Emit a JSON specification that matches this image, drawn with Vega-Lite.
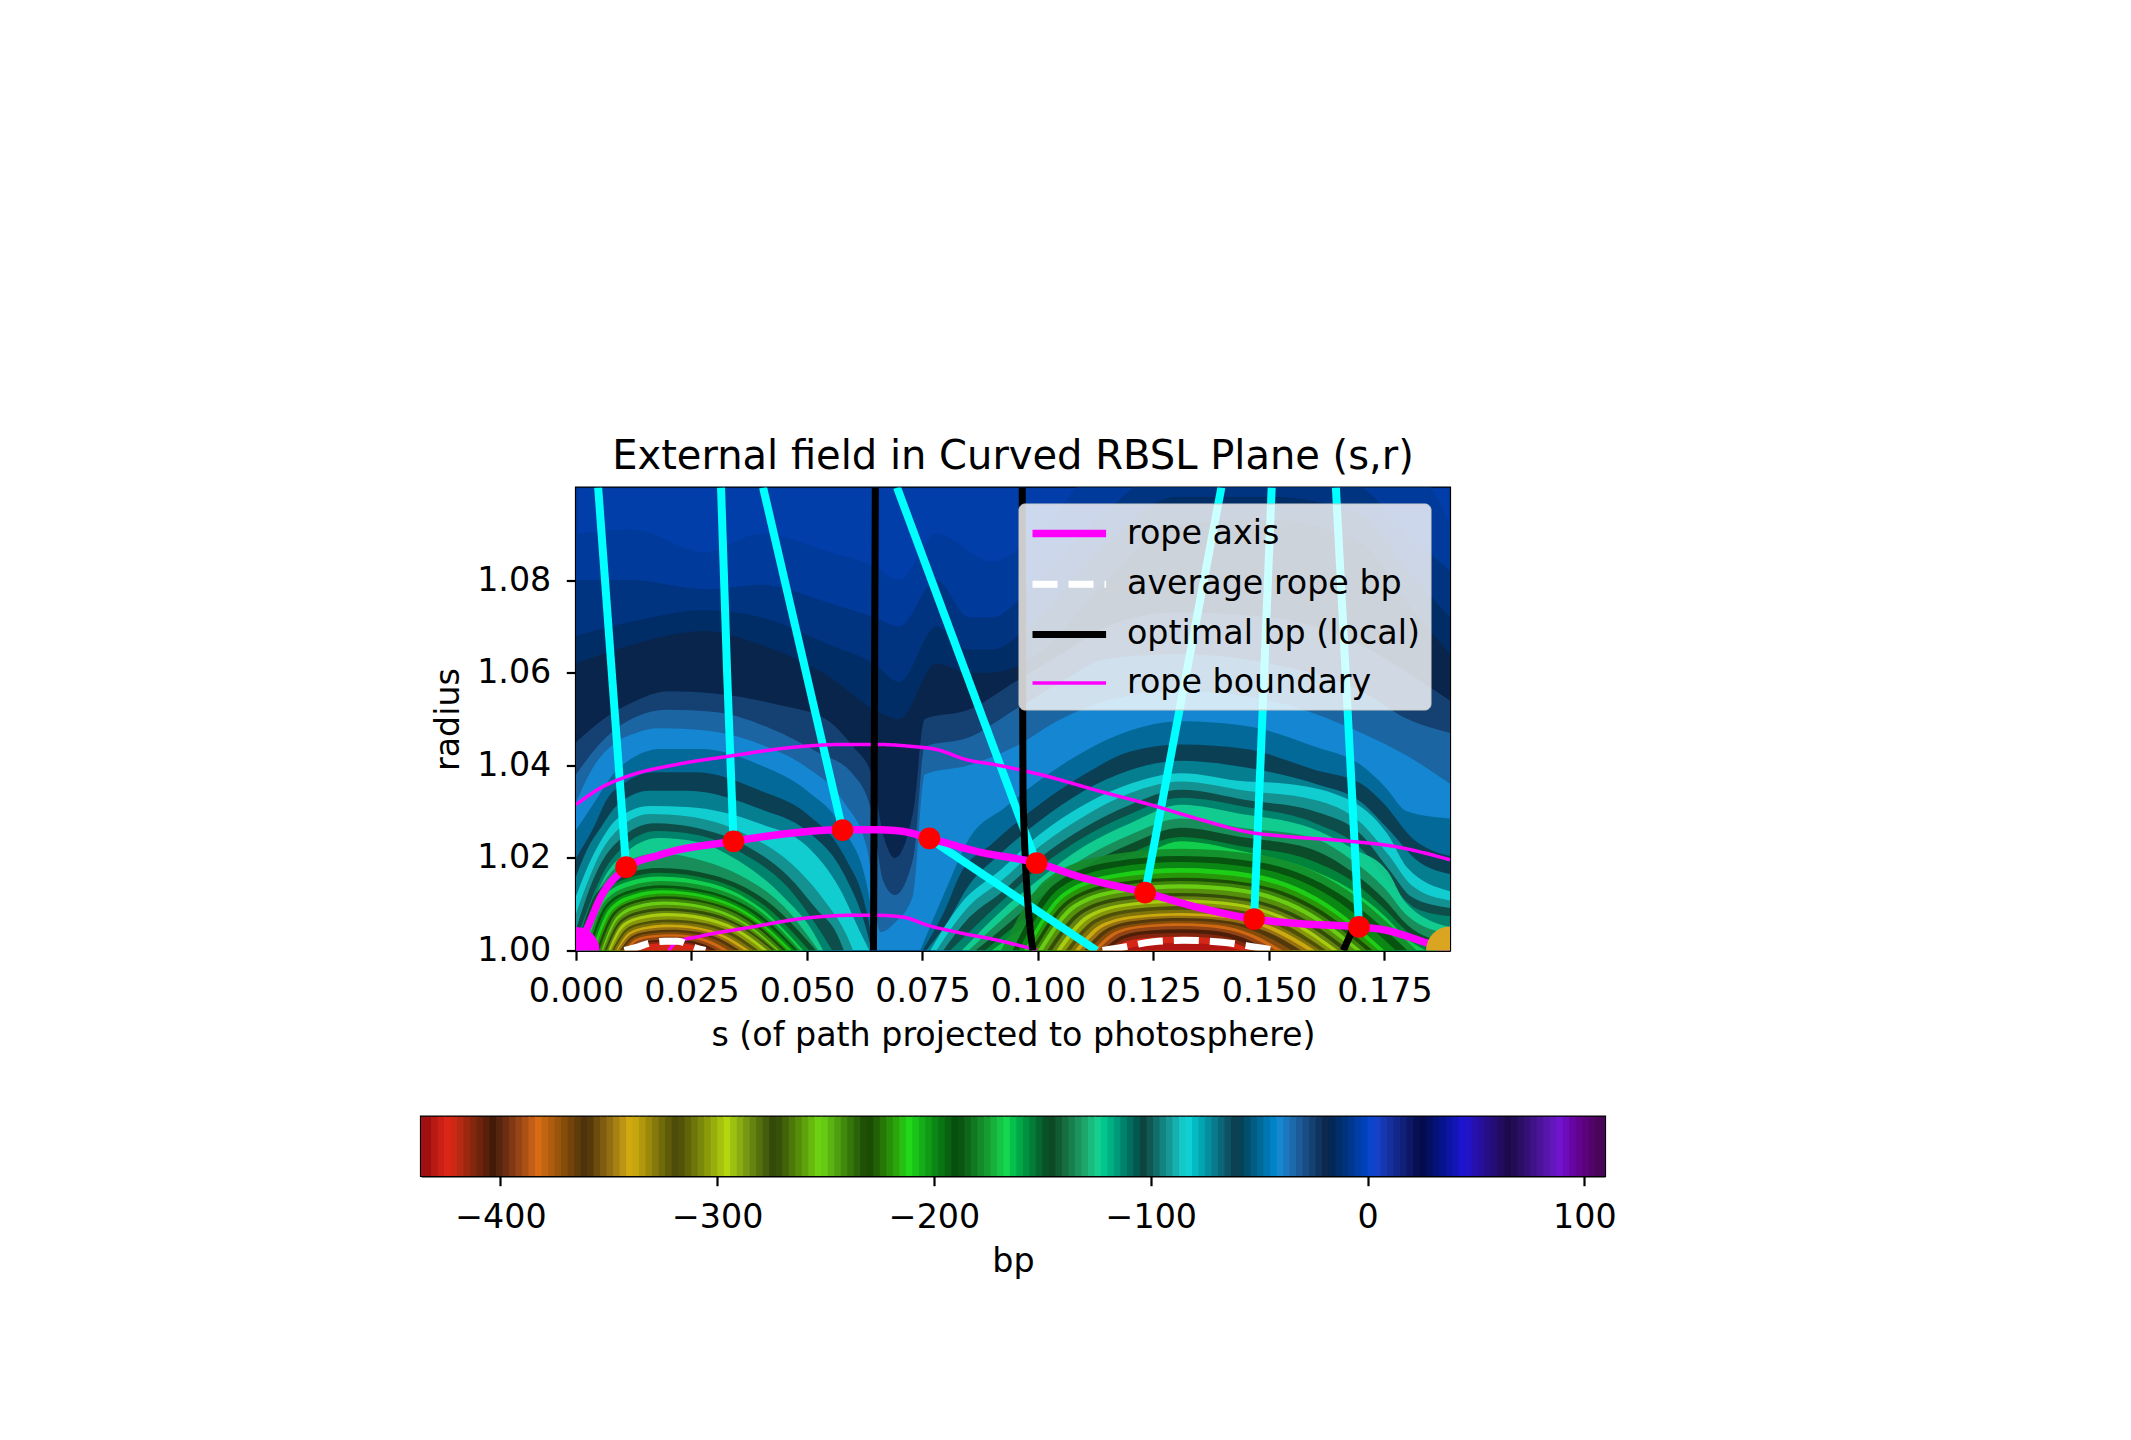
{"$schema":"https://vega.github.io/schema/vega-lite/v6.json","background":"white","padding":{"left":419,"top":434.5,"right":0,"bottom":0},"bounds":"flush","center":true,"spacing":166,"config":{"font":"DejaVu Sans","view":{"stroke":"#000000","strokeWidth":2.2},"axis":{"grid":false,"domainColor":"#000000","domainWidth":2.2,"tickColor":"#000000","tickWidth":2.2,"tickSize":9.7,"labelFontSize":33.3,"titleFontSize":33.3,"titleFontWeight":"normal","labelColor":"#000000","titleColor":"#000000","labelPadding":15.5,"labelFlush":false,"labelOverlap":false,"titlePadding":11.5},"title":{"fontSize":40,"fontWeight":"normal","color":"#000000","offset":11}},"datasets":{"levels":[{"v":-5,"s":0,"r":1.1},{"v":-5,"s":0.1892,"r":1.1},
{"v":-8,"s":0,"r":1.09},{"v":-8,"s":0.012,"r":1.091},{"v":-8,"s":0.028,"r":1.086},{"v":-8,"s":0.04,"r":1.09},{"v":-8,"s":0.055,"r":1.086},{"v":-8,"s":0.0645,"r":1.083},{"v":-8,"s":0.07,"r":1.08},{"v":-8,"s":0.078,"r":1.09},{"v":-8,"s":0.09,"r":1.084},{"v":-8,"s":0.1,"r":1.09},{"v":-8,"s":0.115,"r":1.105},{"v":-8,"s":0.18,"r":1.105},{"v":-8,"s":0.1892,"r":1.092},
{"v":-12,"s":0,"r":1.08},{"v":-12,"s":0.012,"r":1.08},{"v":-12,"s":0.028,"r":1.078},{"v":-12,"s":0.04,"r":1.079},{"v":-12,"s":0.055,"r":1.075},{"v":-12,"s":0.0645,"r":1.072},{"v":-12,"s":0.07,"r":1.07},{"v":-12,"s":0.078,"r":1.08},{"v":-12,"s":0.085,"r":1.072},{"v":-12,"s":0.09,"r":1.072},{"v":-12,"s":0.1,"r":1.08},{"v":-12,"s":0.115,"r":1.095},{"v":-12,"s":0.13,"r":1.105},{"v":-12,"s":0.15,"r":1.105},{"v":-12,"s":0.17,"r":1.1},{"v":-12,"s":0.18,"r":1.09},{"v":-12,"s":0.1892,"r":1.082},
{"v":-16,"s":0,"r":1.068},{"v":-16,"s":0.012,"r":1.071},{"v":-16,"s":0.028,"r":1.0735},{"v":-16,"s":0.04,"r":1.072},{"v":-16,"s":0.055,"r":1.066},{"v":-16,"s":0.0645,"r":1.062},{"v":-16,"s":0.07,"r":1.058},{"v":-16,"s":0.078,"r":1.07},{"v":-16,"s":0.085,"r":1.065},{"v":-16,"s":0.09,"r":1.065},{"v":-16,"s":0.1,"r":1.072},{"v":-16,"s":0.115,"r":1.088},{"v":-16,"s":0.13,"r":1.098},{"v":-16,"s":0.15,"r":1.098},{"v":-16,"s":0.17,"r":1.094},{"v":-16,"s":0.18,"r":1.082},{"v":-16,"s":0.1892,"r":1.072},
{"v":-20,"s":0,"r":1.062},{"v":-20,"s":0.012,"r":1.066},{"v":-20,"s":0.028,"r":1.069},{"v":-20,"s":0.04,"r":1.066},{"v":-20,"s":0.055,"r":1.059},{"v":-20,"s":0.0645,"r":1.052},{"v":-20,"s":0.07,"r":1.05},{"v":-20,"s":0.078,"r":1.062},{"v":-20,"s":0.085,"r":1.06},{"v":-20,"s":0.09,"r":1.06},{"v":-20,"s":0.1,"r":1.064},{"v":-20,"s":0.115,"r":1.08},{"v":-20,"s":0.13,"r":1.092},{"v":-20,"s":0.15,"r":1.093},{"v":-20,"s":0.17,"r":1.088},{"v":-20,"s":0.18,"r":1.075},{"v":-20,"s":0.1892,"r":1.064},
{"v":-28,"s":0,"r":1.045},{"v":-28,"s":0.006,"r":1.05},{"v":-28,"s":0.012,"r":1.0535},{"v":-28,"s":0.02,"r":1.056},{"v":-28,"s":0.03,"r":1.0555},{"v":-28,"s":0.044,"r":1.053},{"v":-28,"s":0.054,"r":1.05},{"v":-28,"s":0.06,"r":1.044},{"v":-28,"s":0.064,"r":1.038},{"v":-28,"s":0.0665,"r":1.025},{"v":-28,"s":0.069,"r":1.02},{"v":-28,"s":0.073,"r":1.03},{"v":-28,"s":0.0755,"r":1.05},{"v":-28,"s":0.085,"r":1.052},{"v":-28,"s":0.095,"r":1.058},{"v":-28,"s":0.105,"r":1.064},{"v":-28,"s":0.115,"r":1.07},{"v":-28,"s":0.13,"r":1.073},{"v":-28,"s":0.15,"r":1.072},{"v":-28,"s":0.17,"r":1.066},{"v":-28,"s":0.18,"r":1.06},{"v":-28,"s":0.1892,"r":1.054},
{"v":-36,"s":0,"r":1.038},{"v":-36,"s":0.005,"r":1.0445},{"v":-36,"s":0.012,"r":1.05},{"v":-36,"s":0.02,"r":1.052},{"v":-36,"s":0.03,"r":1.0515},{"v":-36,"s":0.042,"r":1.048},{"v":-36,"s":0.052,"r":1.043},{"v":-36,"s":0.06,"r":1.038},{"v":-36,"s":0.064,"r":1.03},{"v":-36,"s":0.0665,"r":1.015},{"v":-36,"s":0.069,"r":1.012},{"v":-36,"s":0.073,"r":1.02},{"v":-36,"s":0.0755,"r":1.044},{"v":-36,"s":0.085,"r":1.046},{"v":-36,"s":0.095,"r":1.052},{"v":-36,"s":0.105,"r":1.058},{"v":-36,"s":0.115,"r":1.063},{"v":-36,"s":0.13,"r":1.064},{"v":-36,"s":0.15,"r":1.062},{"v":-36,"s":0.17,"r":1.056},{"v":-36,"s":0.18,"r":1.05},{"v":-36,"s":0.1892,"r":1.047},
{"v":-43,"s":0,"r":1.032},{"v":-43,"s":0.004,"r":1.04},{"v":-43,"s":0.008,"r":1.0445},{"v":-43,"s":0.013,"r":1.047},{"v":-43,"s":0.018,"r":1.048},{"v":-43,"s":0.028,"r":1.0475},{"v":-43,"s":0.04,"r":1.0445},{"v":-43,"s":0.05,"r":1.0395},{"v":-43,"s":0.058,"r":1.032},{"v":-43,"s":0.063,"r":1.022},{"v":-43,"s":0.066,"r":1.004},{"v":-43,"s":0.069,"r":1.006},{"v":-43,"s":0.073,"r":1.012},{"v":-43,"s":0.0755,"r":1.038},{"v":-43,"s":0.085,"r":1.04},{"v":-43,"s":0.095,"r":1.044},{"v":-43,"s":0.105,"r":1.05},{"v":-43,"s":0.115,"r":1.054},{"v":-43,"s":0.13,"r":1.056},{"v":-43,"s":0.15,"r":1.054},{"v":-43,"s":0.17,"r":1.047},{"v":-43,"s":0.18,"r":1.042},{"v":-43,"s":0.1892,"r":1.036}],
"domeA":[{"v":-52,"s":0,"r":1.026},{"v":-52,"s":0.004,"r":1.032},{"v":-52,"s":0.008,"r":1.038},{"v":-52,"s":0.013,"r":1.042},{"v":-52,"s":0.018,"r":1.0435},{"v":-52,"s":0.027,"r":1.0435},{"v":-52,"s":0.04,"r":1.04},{"v":-52,"s":0.05,"r":1.0345},{"v":-52,"s":0.058,"r":1.026},{"v":-52,"s":0.063,"r":1.014},{"v":-52,"s":0.0652,"r":1},
{"v":-62,"s":0,"r":1.02},{"v":-62,"s":0.0038,"r":1.0265},{"v":-62,"s":0.0066,"r":1.0325},{"v":-62,"s":0.011,"r":1.0365},{"v":-62,"s":0.017,"r":1.0385},{"v":-62,"s":0.026,"r":1.0385},{"v":-62,"s":0.04,"r":1.0345},{"v":-62,"s":0.05,"r":1.0295},{"v":-62,"s":0.058,"r":1.0205},{"v":-62,"s":0.063,"r":1.008},{"v":-62,"s":0.0645,"r":1},
{"v":-74,"s":0,"r":1.016},{"v":-74,"s":0.0025,"r":1.022},{"v":-74,"s":0.005,"r":1.026},{"v":-74,"s":0.009,"r":1.0315},{"v":-74,"s":0.016,"r":1.0345},{"v":-74,"s":0.024,"r":1.0345},{"v":-74,"s":0.04,"r":1.0305},{"v":-74,"s":0.05,"r":1.0258},{"v":-74,"s":0.058,"r":1.0165},{"v":-74,"s":0.063,"r":1.004},{"v":-74,"s":0.064,"r":1},
{"v":-85,"s":0,"r":1.0117},{"v":-85,"s":0.0025,"r":1.018},{"v":-85,"s":0.005,"r":1.023},{"v":-85,"s":0.009,"r":1.0285},{"v":-85,"s":0.016,"r":1.0312},{"v":-85,"s":0.024,"r":1.031},{"v":-85,"s":0.04,"r":1.0273},{"v":-85,"s":0.05,"r":1.0225},{"v":-85,"s":0.057,"r":1.0135},{"v":-85,"s":0.062,"r":1.003},{"v":-85,"s":0.0635,"r":1},
{"v":-95,"s":0,"r":1.008},{"v":-95,"s":0.0028,"r":1.0155},{"v":-95,"s":0.005,"r":1.0205},{"v":-95,"s":0.009,"r":1.026},{"v":-95,"s":0.016,"r":1.0295},{"v":-95,"s":0.024,"r":1.029},{"v":-95,"s":0.037,"r":1.025},{"v":-95,"s":0.048,"r":1.0175},{"v":-95,"s":0.054,"r":1.0105},{"v":-95,"s":0.0585,"r":1.0035},{"v":-95,"s":0.06,"r":1},
{"v":-105,"s":0,"r":1.0045},{"v":-105,"s":0.003,"r":1.0135},{"v":-105,"s":0.0055,"r":1.019},{"v":-105,"s":0.0095,"r":1.024},{"v":-105,"s":0.017,"r":1.0275},{"v":-105,"s":0.026,"r":1.0265},{"v":-105,"s":0.037,"r":1.0225},{"v":-105,"s":0.046,"r":1.016},{"v":-105,"s":0.052,"r":1.009},{"v":-105,"s":0.0565,"r":1.0035},{"v":-105,"s":0.058,"r":1},
{"v":-115,"s":0,"r":1.002},{"v":-115,"s":0.0035,"r":1.0115},{"v":-115,"s":0.006,"r":1.017},{"v":-115,"s":0.0098,"r":1.022},{"v":-115,"s":0.0175,"r":1.0258},{"v":-115,"s":0.026,"r":1.025},{"v":-115,"s":0.036,"r":1.021},{"v":-115,"s":0.046,"r":1.0135},{"v":-115,"s":0.052,"r":1.0055},{"v":-115,"s":0.0555,"r":1},
{"v":-125,"s":0.001,"r":1},{"v":-125,"s":0.0036,"r":1.01},{"v":-125,"s":0.006,"r":1.0155},{"v":-125,"s":0.01,"r":1.0205},{"v":-125,"s":0.018,"r":1.0243},{"v":-125,"s":0.026,"r":1.0235},{"v":-125,"s":0.035,"r":1.0195},{"v":-125,"s":0.045,"r":1.0115},{"v":-125,"s":0.051,"r":1.0045},{"v":-125,"s":0.0535,"r":1},
{"v":-137,"s":0.0005,"r":1},{"v":-137,"s":0.0032,"r":1.0095},{"v":-137,"s":0.0065,"r":1.0155},{"v":-137,"s":0.0095,"r":1.0185},{"v":-137,"s":0.018,"r":1.021},{"v":-137,"s":0.027,"r":1.0195},{"v":-137,"s":0.036,"r":1.016},{"v":-137,"s":0.045,"r":1.0095},{"v":-137,"s":0.0525,"r":1},
{"v":-148,"s":0,"r":1},{"v":-148,"s":0.0045,"r":1.0125},{"v":-148,"s":0.0108,"r":1.0166},{"v":-148,"s":0.018,"r":1.0178},{"v":-148,"s":0.0299,"r":1.0162},{"v":-148,"s":0.0418,"r":1.0103},{"v":-148,"s":0.052,"r":1},
{"v":-158,"s":0.001,"r":1},{"v":-158,"s":0.0053,"r":1.0118},{"v":-158,"s":0.0112,"r":1.0156},{"v":-158,"s":0.018,"r":1.0168},{"v":-158,"s":0.0294,"r":1.0153},{"v":-158,"s":0.0408,"r":1.0097},{"v":-158,"s":0.0505,"r":1},
{"v":-168,"s":0.0015,"r":1},{"v":-168,"s":0.0056,"r":1.0112},{"v":-168,"s":0.0114,"r":1.0149},{"v":-168,"s":0.018,"r":1.016},{"v":-168,"s":0.0289,"r":1.0146},{"v":-168,"s":0.0398,"r":1.0093},{"v":-168,"s":0.0492,"r":1},
{"v":-180,"s":0.002,"r":1},{"v":-180,"s":0.0061,"r":1.0105},{"v":-180,"s":0.0119,"r":1.014},{"v":-180,"s":0.0185,"r":1.015},{"v":-180,"s":0.029,"r":1.0137},{"v":-180,"s":0.0396,"r":1.0087},{"v":-180,"s":0.0486,"r":1},
{"v":-191,"s":0.0025,"r":1},{"v":-191,"s":0.0065,"r":1.0099},{"v":-191,"s":0.0121,"r":1.0131},{"v":-191,"s":0.0185,"r":1.0141},{"v":-191,"s":0.0288,"r":1.0128},{"v":-191,"s":0.0392,"r":1.0082},{"v":-191,"s":0.048,"r":1},
{"v":-202,"s":0.003,"r":1},{"v":-202,"s":0.0069,"r":1.0095},{"v":-202,"s":0.0123,"r":1.0126},{"v":-202,"s":0.0185,"r":1.0135},{"v":-202,"s":0.0286,"r":1.0123},{"v":-202,"s":0.0387,"r":1.0078},{"v":-202,"s":0.0473,"r":1},
{"v":-213,"s":0.0035,"r":1},{"v":-213,"s":0.0073,"r":1.0091},{"v":-213,"s":0.0125,"r":1.0121},{"v":-213,"s":0.0185,"r":1.013},{"v":-213,"s":0.0284,"r":1.0118},{"v":-213,"s":0.0382,"r":1.0075},{"v":-213,"s":0.0467,"r":1},
{"v":-222,"s":0.004,"r":1},{"v":-222,"s":0.0078,"r":1.0086},{"v":-222,"s":0.013,"r":1.0114},{"v":-222,"s":0.019,"r":1.0123},{"v":-222,"s":0.0285,"r":1.0112},{"v":-222,"s":0.0379,"r":1.0071},{"v":-222,"s":0.046,"r":1},
{"v":-232,"s":0.0045,"r":1},{"v":-232,"s":0.0081,"r":1.0082},{"v":-232,"s":0.0132,"r":1.0109},{"v":-232,"s":0.019,"r":1.0117},{"v":-232,"s":0.0283,"r":1.0106},{"v":-232,"s":0.0376,"r":1.0068},{"v":-232,"s":0.0455,"r":1},
{"v":-243,"s":0.005,"r":1},{"v":-243,"s":0.0085,"r":1.0078},{"v":-243,"s":0.0134,"r":1.0104},{"v":-243,"s":0.019,"r":1.0112},{"v":-243,"s":0.028,"r":1.0102},{"v":-243,"s":0.0371,"r":1.0065},{"v":-243,"s":0.0448,"r":1},
{"v":-254,"s":0.0055,"r":1},{"v":-254,"s":0.0089,"r":1.0074},{"v":-254,"s":0.0136,"r":1.0099},{"v":-254,"s":0.019,"r":1.0106},{"v":-254,"s":0.0278,"r":1.0096},{"v":-254,"s":0.0365,"r":1.0061},{"v":-254,"s":0.044,"r":1},
{"v":-265,"s":0.0058,"r":1},{"v":-265,"s":0.0092,"r":1.0069},{"v":-265,"s":0.0138,"r":1.0092},{"v":-265,"s":0.0192,"r":1.0099},{"v":-265,"s":0.0277,"r":1.009},{"v":-265,"s":0.0363,"r":1.0057},{"v":-265,"s":0.0436,"r":1},
{"v":-275,"s":0.0062,"r":1},{"v":-275,"s":0.0095,"r":1.0064},{"v":-275,"s":0.0141,"r":1.0086},{"v":-275,"s":0.0193,"r":1.0092},{"v":-275,"s":0.0277,"r":1.0084},{"v":-275,"s":0.036,"r":1.0053},{"v":-275,"s":0.0432,"r":1},
{"v":-286,"s":0.0066,"r":1},{"v":-286,"s":0.0098,"r":1.006},{"v":-286,"s":0.0143,"r":1.008},{"v":-286,"s":0.0195,"r":1.0086},{"v":-286,"s":0.0276,"r":1.0078},{"v":-286,"s":0.0356,"r":1.005},{"v":-286,"s":0.0425,"r":1},
{"v":-297,"s":0.007,"r":1},{"v":-297,"s":0.0101,"r":1.0057},{"v":-297,"s":0.0145,"r":1.0075},{"v":-297,"s":0.0195,"r":1.0081},{"v":-297,"s":0.0272,"r":1.0074},{"v":-297,"s":0.0349,"r":1.0047},{"v":-297,"s":0.0415,"r":1},
{"v":-308,"s":0.0074,"r":1},{"v":-308,"s":0.0105,"r":1.0052},{"v":-308,"s":0.0148,"r":1.0069},{"v":-308,"s":0.0198,"r":1.0074},{"v":-308,"s":0.027,"r":1.0067},{"v":-308,"s":0.0343,"r":1.0043},{"v":-308,"s":0.0405,"r":1},
{"v":-320,"s":0.0078,"r":1},{"v":-320,"s":0.0109,"r":1.0047},{"v":-320,"s":0.0151,"r":1.0062},{"v":-320,"s":0.02,"r":1.0067},{"v":-320,"s":0.0268,"r":1.0061},{"v":-320,"s":0.0337,"r":1.0039},{"v":-320,"s":0.0395,"r":1},
{"v":-330,"s":0.0082,"r":1},{"v":-330,"s":0.0112,"r":1.0043},{"v":-330,"s":0.0153,"r":1.0057},{"v":-330,"s":0.02,"r":1.0061},{"v":-330,"s":0.0265,"r":1.0056},{"v":-330,"s":0.033,"r":1.0035},{"v":-330,"s":0.0385,"r":1},
{"v":-341,"s":0.0087,"r":1},{"v":-341,"s":0.0115,"r":1.0039},{"v":-341,"s":0.0155,"r":1.0052},{"v":-341,"s":0.02,"r":1.0056},{"v":-341,"s":0.0261,"r":1.0051},{"v":-341,"s":0.0323,"r":1.0032},{"v":-341,"s":0.0375,"r":1},
{"v":-352,"s":0.009,"r":1},{"v":-352,"s":0.0118,"r":1.0035},{"v":-352,"s":0.0158,"r":1.0047},{"v":-352,"s":0.0203,"r":1.005},{"v":-352,"s":0.026,"r":1.0046},{"v":-352,"s":0.0316,"r":1.0029},{"v":-352,"s":0.0365,"r":1},
{"v":-362,"s":0.0095,"r":1},{"v":-362,"s":0.0123,"r":1.0032},{"v":-362,"s":0.0161,"r":1.0042},{"v":-362,"s":0.0205,"r":1.0045},{"v":-362,"s":0.0258,"r":1.0041},{"v":-362,"s":0.031,"r":1.0026},{"v":-362,"s":0.0355,"r":1},
{"v":-373,"s":0.01,"r":1},{"v":-373,"s":0.0126,"r":1.0028},{"v":-373,"s":0.0163,"r":1.0037},{"v":-373,"s":0.0205,"r":1.004},{"v":-373,"s":0.0253,"r":1.0036},{"v":-373,"s":0.0302,"r":1.0023},{"v":-373,"s":0.0343,"r":1},
{"v":-384,"s":0.0105,"r":1},{"v":-384,"s":0.013,"r":1.0025},{"v":-384,"s":0.0165,"r":1.0033},{"v":-384,"s":0.0205,"r":1.0035},{"v":-384,"s":0.0249,"r":1.0032},{"v":-384,"s":0.0293,"r":1.002},{"v":-384,"s":0.033,"r":1},
{"v":-395,"s":0.011,"r":1},{"v":-395,"s":0.0134,"r":1.0021},{"v":-395,"s":0.0167,"r":1.0028},{"v":-395,"s":0.0205,"r":1.003},{"v":-395,"s":0.0245,"r":1.0027},{"v":-395,"s":0.0284,"r":1.0017},{"v":-395,"s":0.0318,"r":1},
{"v":-405,"s":0.0115,"r":1},{"v":-405,"s":0.0138,"r":1.0017},{"v":-405,"s":0.0169,"r":1.0022},{"v":-405,"s":0.0205,"r":1.0024},{"v":-405,"s":0.024,"r":1.0022},{"v":-405,"s":0.0275,"r":1.0014},{"v":-405,"s":0.0305,"r":1},
{"v":-415,"s":0.012,"r":1},{"v":-415,"s":0.0141,"r":1.0014},{"v":-415,"s":0.0171,"r":1.0019},{"v":-415,"s":0.0205,"r":1.002},{"v":-415,"s":0.0236,"r":1.0018},{"v":-415,"s":0.0268,"r":1.0012},{"v":-415,"s":0.0295,"r":1},
{"v":-425,"s":0.0125,"r":1},{"v":-425,"s":0.0145,"r":1.0011},{"v":-425,"s":0.0173,"r":1.0015},{"v":-425,"s":0.0205,"r":1.0016},{"v":-425,"s":0.0233,"r":1.0015},{"v":-425,"s":0.0261,"r":1.0009},{"v":-425,"s":0.0285,"r":1}],
"domeB":[{"v":-52,"s":0.0745,"r":1},{"v":-52,"s":0.08,"r":1.013},{"v":-52,"s":0.085,"r":1.024},{"v":-52,"s":0.093,"r":1.031},{"v":-52,"s":0.1,"r":1.0365},{"v":-52,"s":0.11,"r":1.043},{"v":-52,"s":0.12,"r":1.0475},{"v":-52,"s":0.131,"r":1.0495},{"v":-52,"s":0.145,"r":1.0485},{"v":-52,"s":0.16,"r":1.044},{"v":-52,"s":0.17,"r":1.04},{"v":-52,"s":0.175,"r":1.0355},{"v":-52,"s":0.18,"r":1.03},{"v":-52,"s":0.1892,"r":1.0285},
{"v":-62,"s":0.075,"r":1},{"v":-62,"s":0.08,"r":1.009},{"v":-62,"s":0.0832,"r":1.0165},{"v":-62,"s":0.09,"r":1.023},{"v":-62,"s":0.1004,"r":1.0316},{"v":-62,"s":0.11,"r":1.038},{"v":-62,"s":0.12,"r":1.043},{"v":-62,"s":0.131,"r":1.0445},{"v":-62,"s":0.145,"r":1.0435},{"v":-62,"s":0.16,"r":1.039},{"v":-62,"s":0.17,"r":1.036},{"v":-62,"s":0.175,"r":1.0316},{"v":-62,"s":0.181,"r":1.0243},{"v":-62,"s":0.1892,"r":1.0204},
{"v":-74,"s":0.0758,"r":1},{"v":-74,"s":0.08,"r":1.0055},{"v":-74,"s":0.085,"r":1.014},{"v":-74,"s":0.092,"r":1.021},{"v":-74,"s":0.1004,"r":1.028},{"v":-74,"s":0.11,"r":1.0345},{"v":-74,"s":0.12,"r":1.039},{"v":-74,"s":0.131,"r":1.041},{"v":-74,"s":0.145,"r":1.0395},{"v":-74,"s":0.16,"r":1.036},{"v":-74,"s":0.17,"r":1.032},{"v":-74,"s":0.176,"r":1.026},{"v":-74,"s":0.182,"r":1.0195},{"v":-74,"s":0.1892,"r":1.0165},
{"v":-85,"s":0.0767,"r":1},{"v":-85,"s":0.0832,"r":1.01},{"v":-85,"s":0.092,"r":1.0175},{"v":-85,"s":0.1004,"r":1.0251},{"v":-85,"s":0.11,"r":1.0315},{"v":-85,"s":0.12,"r":1.036},{"v":-85,"s":0.131,"r":1.0383},{"v":-85,"s":0.145,"r":1.0365},{"v":-85,"s":0.152,"r":1.0362},{"v":-85,"s":0.1664,"r":1.033},{"v":-85,"s":0.1757,"r":1.0251},{"v":-85,"s":0.18,"r":1.0178},{"v":-85,"s":0.1892,"r":1.0128},
{"v":-95,"s":0.078,"r":1},{"v":-95,"s":0.085,"r":1.0095},{"v":-95,"s":0.092,"r":1.015},{"v":-95,"s":0.1004,"r":1.0225},{"v":-95,"s":0.11,"r":1.029},{"v":-95,"s":0.12,"r":1.034},{"v":-95,"s":0.131,"r":1.0365},{"v":-95,"s":0.145,"r":1.0345},{"v":-95,"s":0.16,"r":1.0325},{"v":-95,"s":0.17,"r":1.0275},{"v":-95,"s":0.176,"r":1.0205},{"v":-95,"s":0.181,"r":1.014},{"v":-95,"s":0.1892,"r":1.0108},
{"v":-105,"s":0.0795,"r":1},{"v":-105,"s":0.085,"r":1.007},{"v":-105,"s":0.092,"r":1.0125},{"v":-105,"s":0.1004,"r":1.02},{"v":-105,"s":0.11,"r":1.0265},{"v":-105,"s":0.12,"r":1.0315},{"v":-105,"s":0.131,"r":1.0347},{"v":-105,"s":0.145,"r":1.0325},{"v":-105,"s":0.16,"r":1.03},{"v":-105,"s":0.17,"r":1.025},{"v":-105,"s":0.176,"r":1.0175},{"v":-105,"s":0.181,"r":1.0115},{"v":-105,"s":0.1892,"r":1.0092},
{"v":-115,"s":0.081,"r":1},{"v":-115,"s":0.092,"r":1.0105},{"v":-115,"s":0.1004,"r":1.018},{"v":-115,"s":0.11,"r":1.0245},{"v":-115,"s":0.12,"r":1.0295},{"v":-115,"s":0.131,"r":1.033},{"v":-115,"s":0.145,"r":1.031},{"v":-115,"s":0.16,"r":1.0275},{"v":-115,"s":0.17,"r":1.022},{"v":-115,"s":0.176,"r":1.0148},{"v":-115,"s":0.182,"r":1.009},{"v":-115,"s":0.1892,"r":1.0074},
{"v":-125,"s":0.0835,"r":1},{"v":-125,"s":0.092,"r":1.0085},{"v":-125,"s":0.1004,"r":1.0155},{"v":-125,"s":0.11,"r":1.0225},{"v":-125,"s":0.12,"r":1.0275},{"v":-125,"s":0.131,"r":1.0315},{"v":-125,"s":0.144,"r":1.0295},{"v":-125,"s":0.159,"r":1.0265},{"v":-125,"s":0.168,"r":1.0221},{"v":-125,"s":0.1757,"r":1.0171},{"v":-125,"s":0.1794,"r":1.0106},{"v":-125,"s":0.1892,"r":1.005},
{"v":-137,"s":0.085,"r":1},{"v":-137,"s":0.092,"r":1.0065},{"v":-137,"s":0.1004,"r":1.0135},{"v":-137,"s":0.11,"r":1.02},{"v":-137,"s":0.12,"r":1.025},{"v":-137,"s":0.131,"r":1.0285},{"v":-137,"s":0.144,"r":1.0265},{"v":-137,"s":0.159,"r":1.0245},{"v":-137,"s":0.168,"r":1.0195},{"v":-137,"s":0.175,"r":1.0135},{"v":-137,"s":0.18,"r":1.0075},{"v":-137,"s":0.1892,"r":1.0035},
{"v":-148,"s":0.0865,"r":1},{"v":-148,"s":0.092,"r":1.0045},{"v":-148,"s":0.1004,"r":1.0115},{"v":-148,"s":0.11,"r":1.018},{"v":-148,"s":0.12,"r":1.023},{"v":-148,"s":0.131,"r":1.0265},{"v":-148,"s":0.144,"r":1.0245},{"v":-148,"s":0.159,"r":1.022},{"v":-148,"s":0.168,"r":1.017},{"v":-148,"s":0.175,"r":1.011},{"v":-148,"s":0.18,"r":1.0055},{"v":-148,"s":0.1892,"r":1.0015},
{"v":-158,"s":0.0885,"r":1},{"v":-158,"s":0.1004,"r":1.0095},{"v":-158,"s":0.11,"r":1.016},{"v":-158,"s":0.12,"r":1.021},{"v":-158,"s":0.131,"r":1.0245},{"v":-158,"s":0.144,"r":1.0225},{"v":-158,"s":0.159,"r":1.0195},{"v":-158,"s":0.168,"r":1.015},{"v":-158,"s":0.175,"r":1.009},{"v":-158,"s":0.18,"r":1.004},{"v":-158,"s":0.186,"r":1},
{"v":-168,"s":0.09,"r":1},{"v":-168,"s":0.1004,"r":1.0075},{"v":-168,"s":0.11,"r":1.014},{"v":-168,"s":0.12,"r":1.019},{"v":-168,"s":0.131,"r":1.0236},{"v":-168,"s":0.144,"r":1.0215},{"v":-168,"s":0.159,"r":1.0175},{"v":-168,"s":0.168,"r":1.013},{"v":-168,"s":0.175,"r":1.0075},{"v":-168,"s":0.18,"r":1.0025},{"v":-168,"s":0.184,"r":1},
{"v":-180,"s":0.092,"r":1},{"v":-180,"s":0.1018,"r":1.0154},{"v":-180,"s":0.1154,"r":1.0207},{"v":-180,"s":0.131,"r":1.022},{"v":-180,"s":0.1489,"r":1.0205},{"v":-180,"s":0.1667,"r":1.0132},{"v":-180,"s":0.182,"r":1},
{"v":-191,"s":0.0945,"r":1},{"v":-191,"s":0.1036,"r":1.0143},{"v":-191,"s":0.1164,"r":1.0192},{"v":-191,"s":0.131,"r":1.0204},{"v":-191,"s":0.1482,"r":1.019},{"v":-191,"s":0.1653,"r":1.0122},{"v":-191,"s":0.18,"r":1},
{"v":-202,"s":0.0958,"r":1},{"v":-202,"s":0.1046,"r":1.0134},{"v":-202,"s":0.1169,"r":1.018},{"v":-202,"s":0.131,"r":1.0191},{"v":-202,"s":0.1473,"r":1.0178},{"v":-202,"s":0.1636,"r":1.0115},{"v":-202,"s":0.1775,"r":1},
{"v":-213,"s":0.097,"r":1},{"v":-213,"s":0.1055,"r":1.0125},{"v":-213,"s":0.1174,"r":1.0167},{"v":-213,"s":0.131,"r":1.0178},{"v":-213,"s":0.1464,"r":1.0166},{"v":-213,"s":0.1618,"r":1.0107},{"v":-213,"s":0.175,"r":1},
{"v":-222,"s":0.0978,"r":1},{"v":-222,"s":0.1061,"r":1.0118},{"v":-222,"s":0.1177,"r":1.0158},{"v":-222,"s":0.131,"r":1.0168},{"v":-222,"s":0.146,"r":1.0156},{"v":-222,"s":0.161,"r":1.0101},{"v":-222,"s":0.1738,"r":1},
{"v":-232,"s":0.0985,"r":1},{"v":-232,"s":0.1066,"r":1.011},{"v":-232,"s":0.118,"r":1.0148},{"v":-232,"s":0.131,"r":1.0157},{"v":-232,"s":0.1455,"r":1.0146},{"v":-232,"s":0.1601,"r":1.0094},{"v":-232,"s":0.1725,"r":1},
{"v":-243,"s":0.0993,"r":1},{"v":-243,"s":0.1072,"r":1.0105},{"v":-243,"s":0.1183,"r":1.0141},{"v":-243,"s":0.131,"r":1.015},{"v":-243,"s":0.1451,"r":1.014},{"v":-243,"s":0.1591,"r":1.009},{"v":-243,"s":0.1712,"r":1},
{"v":-254,"s":0.1,"r":1},{"v":-254,"s":0.1078,"r":1.01},{"v":-254,"s":0.1186,"r":1.0134},{"v":-254,"s":0.131,"r":1.0143},{"v":-254,"s":0.1447,"r":1.0133},{"v":-254,"s":0.1583,"r":1.0086},{"v":-254,"s":0.17,"r":1},
{"v":-265,"s":0.101,"r":1},{"v":-265,"s":0.1085,"r":1.0094},{"v":-265,"s":0.119,"r":1.0126},{"v":-265,"s":0.131,"r":1.0134},{"v":-265,"s":0.1442,"r":1.0125},{"v":-265,"s":0.1575,"r":1.008},{"v":-265,"s":0.1688,"r":1},
{"v":-275,"s":0.102,"r":1},{"v":-275,"s":0.1093,"r":1.0087},{"v":-275,"s":0.1194,"r":1.0117},{"v":-275,"s":0.131,"r":1.0124},{"v":-275,"s":0.1438,"r":1.0115},{"v":-275,"s":0.1566,"r":1.0074},{"v":-275,"s":0.1675,"r":1},
{"v":-286,"s":0.103,"r":1},{"v":-286,"s":0.11,"r":1.0082},{"v":-286,"s":0.1198,"r":1.011},{"v":-286,"s":0.131,"r":1.0117},{"v":-286,"s":0.1433,"r":1.0109},{"v":-286,"s":0.1556,"r":1.007},{"v":-286,"s":0.1662,"r":1},
{"v":-297,"s":0.104,"r":1},{"v":-297,"s":0.1108,"r":1.0077},{"v":-297,"s":0.1202,"r":1.0103},{"v":-297,"s":0.131,"r":1.011},{"v":-297,"s":0.1429,"r":1.0102},{"v":-297,"s":0.1548,"r":1.0066},{"v":-297,"s":0.165,"r":1},
{"v":-308,"s":0.105,"r":1},{"v":-308,"s":0.1115,"r":1.0072},{"v":-308,"s":0.1206,"r":1.0097},{"v":-308,"s":0.131,"r":1.0103},{"v":-308,"s":0.1425,"r":1.0096},{"v":-308,"s":0.154,"r":1.0062},{"v":-308,"s":0.1638,"r":1},
{"v":-320,"s":0.106,"r":1},{"v":-320,"s":0.1123,"r":1.0067},{"v":-320,"s":0.121,"r":1.009},{"v":-320,"s":0.131,"r":1.0096},{"v":-320,"s":0.142,"r":1.0089},{"v":-320,"s":0.1531,"r":1.0058},{"v":-320,"s":0.1625,"r":1},
{"v":-330,"s":0.107,"r":1},{"v":-330,"s":0.113,"r":1.0062},{"v":-330,"s":0.1214,"r":1.0083},{"v":-330,"s":0.131,"r":1.0088},{"v":-330,"s":0.1416,"r":1.0082},{"v":-330,"s":0.1521,"r":1.0053},{"v":-330,"s":0.1612,"r":1},
{"v":-341,"s":0.108,"r":1},{"v":-341,"s":0.1138,"r":1.0057},{"v":-341,"s":0.1218,"r":1.0076},{"v":-341,"s":0.131,"r":1.0081},{"v":-341,"s":0.1412,"r":1.0075},{"v":-341,"s":0.1513,"r":1.0049},{"v":-341,"s":0.16,"r":1},
{"v":-352,"s":0.109,"r":1},{"v":-352,"s":0.1145,"r":1.0053},{"v":-352,"s":0.1222,"r":1.0071},{"v":-352,"s":0.131,"r":1.0075},{"v":-352,"s":0.1406,"r":1.007},{"v":-352,"s":0.1503,"r":1.0045},{"v":-352,"s":0.1585,"r":1},
{"v":-362,"s":0.11,"r":1},{"v":-362,"s":0.1153,"r":1.0049},{"v":-362,"s":0.1226,"r":1.0066},{"v":-362,"s":0.131,"r":1.007},{"v":-362,"s":0.1401,"r":1.0065},{"v":-362,"s":0.1492,"r":1.0042},{"v":-362,"s":0.157,"r":1},
{"v":-373,"s":0.111,"r":1},{"v":-373,"s":0.116,"r":1.0045},{"v":-373,"s":0.123,"r":1.006},{"v":-373,"s":0.131,"r":1.0064},{"v":-373,"s":0.1394,"r":1.006},{"v":-373,"s":0.1478,"r":1.0038},{"v":-373,"s":0.155,"r":1},
{"v":-384,"s":0.112,"r":1},{"v":-384,"s":0.1168,"r":1.0041},{"v":-384,"s":0.1234,"r":1.0055},{"v":-384,"s":0.131,"r":1.0059},{"v":-384,"s":0.1387,"r":1.0055},{"v":-384,"s":0.1464,"r":1.0035},{"v":-384,"s":0.153,"r":1},
{"v":-395,"s":0.113,"r":1},{"v":-395,"s":0.1175,"r":1.0037},{"v":-395,"s":0.1238,"r":1.005},{"v":-395,"s":0.131,"r":1.0053},{"v":-395,"s":0.1382,"r":1.0049},{"v":-395,"s":0.1454,"r":1.0032},{"v":-395,"s":0.1515,"r":1},
{"v":-405,"s":0.114,"r":1},{"v":-405,"s":0.1183,"r":1.0032},{"v":-405,"s":0.1242,"r":1.0043},{"v":-405,"s":0.131,"r":1.0046},{"v":-405,"s":0.1377,"r":1.0043},{"v":-405,"s":0.1443,"r":1.0028},{"v":-405,"s":0.15,"r":1},
{"v":-415,"s":0.115,"r":1},{"v":-415,"s":0.119,"r":1.0027},{"v":-415,"s":0.1246,"r":1.0036},{"v":-415,"s":0.131,"r":1.0038},{"v":-415,"s":0.137,"r":1.0035},{"v":-415,"s":0.1429,"r":1.0023},{"v":-415,"s":0.148,"r":1},
{"v":-425,"s":0.1156,"r":1},{"v":-425,"s":0.1195,"r":1.0021},{"v":-425,"s":0.1248,"r":1.0028},{"v":-425,"s":0.131,"r":1.003},{"v":-425,"s":0.1364,"r":1.0028},{"v":-425,"s":0.1419,"r":1.0018},{"v":-425,"s":0.1465,"r":1},
{"v":-434,"s":0.118,"r":1},{"v":-434,"s":0.124,"r":1.0013},{"v":-434,"s":0.131,"r":1.0016},{"v":-434,"s":0.138,"r":1.0013},{"v":-434,"s":0.144,"r":1}],
"fieldlines":[{"p":"1","s":0.01085,"r":1.018},{"p":"1","s":0.0048,"r":1.1},{"p":"2","s":0.0341,"r":1.0236},{"p":"2","s":0.0327,"r":1.0603},{"p":"2","s":0.0314,"r":1.1},{"p":"3","s":0.0577,"r":1.026},{"p":"3","s":0.0405,"r":1.1},{"p":"4","s":0.0765,"r":1.0242},{"p":"4","s":0.1127,"r":1},{"p":"5","s":0.0997,"r":1.0189},{"p":"5","s":0.0695,"r":1.1},{"p":"6","s":0.1232,"r":1.0125},{"p":"6","s":0.1397,"r":1.1},{"p":"7","s":0.1468,"r":1.0068},{"p":"7","s":0.1506,"r":1.1},{"p":"8","s":0.1695,"r":1.0051},{"p":"8","s":0.1645,"r":1.1}],
"lines":[{"k":"rope boundary","p":"u","s":0,"r":1.0315},{"k":"rope boundary","p":"u","s":0.0053,"r":1.0351},{"k":"rope boundary","p":"u","s":0.0111,"r":1.0376},{"k":"rope boundary","p":"u","s":0.0219,"r":1.0402},{"k":"rope boundary","p":"u","s":0.0334,"r":1.042},{"k":"rope boundary","p":"u","s":0.0471,"r":1.0439},{"k":"rope boundary","p":"u","s":0.058,"r":1.0445},{"k":"rope boundary","p":"u","s":0.0652,"r":1.0445},{"k":"rope boundary","p":"u","s":0.0724,"r":1.0441},{"k":"rope boundary","p":"u","s":0.0781,"r":1.0434},{"k":"rope boundary","p":"u","s":0.0846,"r":1.0412},{"k":"rope boundary","p":"u","s":0.0904,"r":1.0402},{"k":"rope boundary","p":"u","s":0.1005,"r":1.038},{"k":"rope boundary","p":"u","s":0.1134,"r":1.0344},{"k":"rope boundary","p":"u","s":0.1243,"r":1.0315},{"k":"rope boundary","p":"u","s":0.1351,"r":1.0283},{"k":"rope boundary","p":"u","s":0.146,"r":1.0255},{"k":"rope boundary","p":"u","s":0.1531,"r":1.0247},{"k":"rope boundary","p":"u","s":0.1675,"r":1.0236},{"k":"rope boundary","p":"u","s":0.177,"r":1.0225},{"k":"rope boundary","p":"u","s":0.1892,"r":1.0196},
{"k":"rope boundary","p":"l","s":0.0201,"r":1},{"k":"rope boundary","p":"l","s":0.0216,"r":1.0017},{"k":"rope boundary","p":"l","s":0.027,"r":1.0031},{"k":"rope boundary","p":"l","s":0.0371,"r":1.0049},{"k":"rope boundary","p":"l","s":0.0507,"r":1.0071},{"k":"rope boundary","p":"l","s":0.0594,"r":1.0076},{"k":"rope boundary","p":"l","s":0.0652,"r":1.0076},{"k":"rope boundary","p":"l","s":0.0709,"r":1.0072},{"k":"rope boundary","p":"l","s":0.076,"r":1.0055},{"k":"rope boundary","p":"l","s":0.0832,"r":1.0038},{"k":"rope boundary","p":"l","s":0.0904,"r":1.0024},{"k":"rope boundary","p":"l","s":0.0998,"r":1.0001},
{"k":"average rope bp","p":"a","s":0.0105,"r":1},{"k":"average rope bp","p":"a","s":0.0129,"r":1.0006},{"k":"average rope bp","p":"a","s":0.016,"r":1.0016},{"k":"average rope bp","p":"a","s":0.0194,"r":1.002},{"k":"average rope bp","p":"a","s":0.022,"r":1.002},{"k":"average rope bp","p":"a","s":0.0258,"r":1.0006},{"k":"average rope bp","p":"a","s":0.028,"r":1},
{"k":"average rope bp","p":"b","s":0.114,"r":1},{"k":"average rope bp","p":"b","s":0.1178,"r":1.0006},{"k":"average rope bp","p":"b","s":0.125,"r":1.0019},{"k":"average rope bp","p":"b","s":0.1316,"r":1.0022},{"k":"average rope bp","p":"b","s":0.14,"r":1.0018},{"k":"average rope bp","p":"b","s":0.1479,"r":1.0006},{"k":"average rope bp","p":"b","s":0.152,"r":1},
{"k":"optimal bp (local)","p":"x","s":0.0644,"r":1},{"k":"optimal bp (local)","p":"x","s":0.0648,"r":1.1},{"k":"optimal bp (local)","p":"y","s":0.0966,"r":1.1},{"k":"optimal bp (local)","p":"y","s":0.0967,"r":1.052},{"k":"optimal bp (local)","p":"y","s":0.0968,"r":1.0316},{"k":"optimal bp (local)","p":"y","s":0.0989,"r":1},{"k":"optimal bp (local)","p":"z","s":0.1661,"r":1},{"k":"optimal bp (local)","p":"z","s":0.1682,"r":1.0047},
{"k":"rope axis","p":"m","s":0,"r":1},{"k":"rope axis","p":"m","s":0.00245,"r":1.0049},{"k":"rope axis","p":"m","s":0.0053,"r":1.0114},{"k":"rope axis","p":"m","s":0.0109,"r":1.0178},{"k":"rope axis","p":"m","s":0.0183,"r":1.0207},{"k":"rope axis","p":"m","s":0.0342,"r":1.0236},{"k":"rope axis","p":"m","s":0.0471,"r":1.0254},{"k":"rope axis","p":"m","s":0.0577,"r":1.0261},{"k":"rope axis","p":"m","s":0.0644,"r":1.0261},{"k":"rope axis","p":"m","s":0.0702,"r":1.0258},{"k":"rope axis","p":"m","s":0.0766,"r":1.0242},{"k":"rope axis","p":"m","s":0.0868,"r":1.0214},{"k":"rope axis","p":"m","s":0.0998,"r":1.0189},{"k":"rope axis","p":"m","s":0.1098,"r":1.0157},{"k":"rope axis","p":"m","s":0.1232,"r":1.0125},{"k":"rope axis","p":"m","s":0.1351,"r":1.0092},{"k":"rope axis","p":"m","s":0.1468,"r":1.0068},{"k":"rope axis","p":"m","s":0.1567,"r":1.0058},{"k":"rope axis","p":"m","s":0.1695,"r":1.0051},{"k":"rope axis","p":"m","s":0.1747,"r":1.0045},{"k":"rope axis","p":"m","s":0.184,"r":1.0017},{"k":"rope axis","p":"m","s":0.1892,"r":1}],
"dots":[{"s":0.01085,"r":1.018},{"s":0.0341,"r":1.0236},{"s":0.0577,"r":1.026},{"s":0.0765,"r":1.0242},{"s":0.0997,"r":1.0189},{"s":0.1232,"r":1.0125},{"s":0.1468,"r":1.0068},{"s":0.1695,"r":1.0051}],
"bar":[{"v":-436.6,"e":-431.5},{"v":-432,"e":-428.5},{"v":-429,"e":-425.5},{"v":-426,"e":-422.5},{"v":-423,"e":-419.5},{"v":-420,"e":-416.5},{"v":-417,"e":-413.5},{"v":-414,"e":-410.5},{"v":-411,"e":-407.5},{"v":-408,"e":-404.5},{"v":-405,"e":-401.5},{"v":-402,"e":-398.5},{"v":-399,"e":-395.5},{"v":-396,"e":-392.5},{"v":-393,"e":-389.5},{"v":-390,"e":-386.5},{"v":-387,"e":-383.5},{"v":-384,"e":-380.5},{"v":-381,"e":-377.5},{"v":-378,"e":-374.5},{"v":-375,"e":-371.5},{"v":-372,"e":-368.5},{"v":-369,"e":-365.5},{"v":-366,"e":-362.5},{"v":-363,"e":-359.5},{"v":-360,"e":-356.5},{"v":-357,"e":-353.5},{"v":-354,"e":-350.5},{"v":-351,"e":-347.5},{"v":-348,"e":-344.5},{"v":-345,"e":-341.5},{"v":-342,"e":-338.5},{"v":-339,"e":-335.5},{"v":-336,"e":-332.5},{"v":-333,"e":-329.5},{"v":-330,"e":-326.5},{"v":-327,"e":-323.5},{"v":-324,"e":-320.5},{"v":-321,"e":-317.5},{"v":-318,"e":-314.5},{"v":-315,"e":-311.5},{"v":-312,"e":-308.5},{"v":-309,"e":-305.5},{"v":-306,"e":-302.5},{"v":-303,"e":-299.5},{"v":-300,"e":-296.5},{"v":-297,"e":-293.5},{"v":-294,"e":-290.5},{"v":-291,"e":-287.5},{"v":-288,"e":-284.5},{"v":-285,"e":-281.5},{"v":-282,"e":-278.5},{"v":-279,"e":-275.5},{"v":-276,"e":-272.5},{"v":-273,"e":-269.5},{"v":-270,"e":-266.5},{"v":-267,"e":-263.5},{"v":-264,"e":-260.5},{"v":-261,"e":-257.5},{"v":-258,"e":-254.5},{"v":-255,"e":-251.5},{"v":-252,"e":-248.5},{"v":-249,"e":-245.5},{"v":-246,"e":-242.5},{"v":-243,"e":-239.5},{"v":-240,"e":-236.5},{"v":-237,"e":-233.5},{"v":-234,"e":-230.5},{"v":-231,"e":-227.5},{"v":-228,"e":-224.5},{"v":-225,"e":-221.5},{"v":-222,"e":-218.5},{"v":-219,"e":-215.5},{"v":-216,"e":-212.5},{"v":-213,"e":-209.5},{"v":-210,"e":-206.5},{"v":-207,"e":-203.5},{"v":-204,"e":-200.5},{"v":-201,"e":-197.5},{"v":-198,"e":-194.5},{"v":-195,"e":-191.5},{"v":-192,"e":-188.5},{"v":-189,"e":-185.5},{"v":-186,"e":-182.5},{"v":-183,"e":-179.5},{"v":-180,"e":-176.5},{"v":-177,"e":-173.5},{"v":-174,"e":-170.5},{"v":-171,"e":-167.5},{"v":-168,"e":-164.5},{"v":-165,"e":-161.5},{"v":-162,"e":-158.5},{"v":-159,"e":-155.5},{"v":-156,"e":-152.5},{"v":-153,"e":-149.5},{"v":-150,"e":-146.5},{"v":-147,"e":-143.5},{"v":-144,"e":-140.5},{"v":-141,"e":-137.5},{"v":-138,"e":-134.5},{"v":-135,"e":-131.5},{"v":-132,"e":-128.5},{"v":-129,"e":-125.5},{"v":-126,"e":-122.5},{"v":-123,"e":-119.5},{"v":-120,"e":-116.5},{"v":-117,"e":-113.5},{"v":-114,"e":-110.5},{"v":-111,"e":-107.5},{"v":-108,"e":-104.5},{"v":-105,"e":-101.5},{"v":-102,"e":-98.5},{"v":-99,"e":-95.5},{"v":-96,"e":-92.5},{"v":-93,"e":-89.5},{"v":-90,"e":-86.5},{"v":-87,"e":-83.5},{"v":-84,"e":-80.5},{"v":-81,"e":-77.5},{"v":-78,"e":-74.5},{"v":-75,"e":-71.5},{"v":-72,"e":-68.5},{"v":-69,"e":-65.5},{"v":-66,"e":-62.5},{"v":-63,"e":-59.5},{"v":-60,"e":-56.5},{"v":-57,"e":-53.5},{"v":-54,"e":-50.5},{"v":-51,"e":-47.5},{"v":-48,"e":-44.5},{"v":-45,"e":-41.5},{"v":-42,"e":-38.5},{"v":-39,"e":-35.5},{"v":-36,"e":-32.5},{"v":-33,"e":-29.5},{"v":-30,"e":-26.5},{"v":-27,"e":-23.5},{"v":-24,"e":-20.5},{"v":-21,"e":-17.5},{"v":-18,"e":-14.5},{"v":-15,"e":-11.5},{"v":-12,"e":-8.5},{"v":-9,"e":-5.5},{"v":-6,"e":-2.5},{"v":-3,"e":0.5},{"v":0,"e":3.5},{"v":3,"e":6.5},{"v":6,"e":9.5},{"v":9,"e":12.5},{"v":12,"e":15.5},{"v":15,"e":18.5},{"v":18,"e":21.5},{"v":21,"e":24.5},{"v":24,"e":27.5},{"v":27,"e":30.5},{"v":30,"e":33.5},{"v":33,"e":36.5},{"v":36,"e":39.5},{"v":39,"e":42.5},{"v":42,"e":45.5},{"v":45,"e":48.5},{"v":48,"e":51.5},{"v":51,"e":54.5},{"v":54,"e":57.5},{"v":57,"e":60.5},{"v":60,"e":63.5},{"v":63,"e":66.5},{"v":66,"e":69.5},{"v":69,"e":72.5},{"v":72,"e":75.5},{"v":75,"e":78.5},{"v":78,"e":81.5},{"v":81,"e":84.5},{"v":84,"e":87.5},{"v":87,"e":90.5},{"v":90,"e":93.5},{"v":93,"e":96.5},{"v":96,"e":99.5},{"v":99,"e":102.5},{"v":102,"e":105.5},{"v":105,"e":109.5}]},
"vconcat":[{"title":"External field in Curved RBSL Plane (s,r)","width":874,"height":463,"view":{"fill":"#0f3a9f"},"encoding":{"x":{"field":"s","type":"quantitative","title":"s (of path projected to photosphere)","scale":{"domain":[0,0.1892],"nice":false,"zero":false},"axis":{"values":[0,0.025,0.05,0.075,0.1,0.125,0.15,0.175],"format":".3f"}},"y":{"field":"r","type":"quantitative","title":"radius","stack":null,"scale":{"domain":[1,1.1],"nice":false,"zero":false},"axis":{"values":[1,1.02,1.04,1.06,1.08],"format":".2f"}}},
"layer":[{"data":{"name":"levels"},"mark":{"type":"area","interpolate":"monotone","orient":"vertical","clip":true,"opacity":0.88},"encoding":{"detail":{"field":"v","type":"quantitative"},"color":{"field":"v","type":"quantitative","legend":null,"scale":{"type":"linear","domain":[-436.6,-425,-405,-384,-362,-341,-320,-297,-275,-254,-232,-213,-191,-168,-148,-125,-105,-85,-62,-43,-20,1,23,43,64,87,109.5],"range":["#a01010","#e02818","#431a08","#d86c14","#4a300a","#d6b010","#484808","#b2d610","#2f4408","#6fd815","#1a4404","#20d818","#064a0c","#14d850","#0a4422","#14d694","#0c4440","#14d8d8","#0c3a4a","#148cd8","#0a2448","#1446d4","#060a48","#2014d4","#1c0a48","#7014d0","#3a0840"]}}}},
{"data":{"name":"domeA"},"mark":{"type":"area","interpolate":"monotone","orient":"vertical","clip":true,"opacity":0.88},"encoding":{"detail":{"field":"v","type":"quantitative"},"color":{"field":"v","type":"quantitative","legend":null}}},
{"data":{"name":"domeB"},"mark":{"type":"area","interpolate":"monotone","orient":"vertical","clip":true,"opacity":0.88},"encoding":{"detail":{"field":"v","type":"quantitative"},"color":{"field":"v","type":"quantitative","legend":null}}},
{"data":{"name":"fieldlines"},"mark":{"type":"line","clip":true,"stroke":"#00ffff","strokeWidth":8},"encoding":{"detail":{"field":"p","type":"nominal"}}},
{"data":{"name":"lines"},"mark":{"type":"line","clip":true,"interpolate":"monotone"},"encoding":{"detail":{"field":"p","type":"nominal"},"stroke":{"field":"k","type":"nominal","title":null,"scale":{"domain":["rope axis","average rope bp","optimal bp (local)","rope boundary"],"range":["#ff00ff","#ffffff","#000000","#ff00ff"]},"legend":{"orient":"none","legendX":597.5,"legendY":16,"symbolType":"M-1,0H3.6","symbolSize":1024,"rowPadding":14.2,"labelFontSize":33.3,"labelColor":"#000000","labelOffset":58.5,"padding":10,"fillColor":"rgba(255,255,255,0.8)","strokeColor":"#cccccc","cornerRadius":6,"labelLimit":600}},"strokeWidth":{"field":"k","type":"nominal","title":null,"scale":{"type":"ordinal","domain":["rope axis","average rope bp","optimal bp (local)","rope boundary"],"range":[7.5,7,7,3.5]}},"strokeDash":{"field":"k","type":"nominal","title":null,"scale":{"domain":["rope axis","average rope bp","optimal bp (local)","rope boundary"],"range":[[1,0],[25,11],[1,0],[1,0]]}}}},
{"data":{"name":"dots"},"mark":{"type":"circle","color":"#ff0000","size":470,"opacity":1,"clip":true}},
{"data":{"values":[{"s":0,"r":1}]},"mark":{"type":"circle","color":"#ff00ff","size":2200,"opacity":1,"clip":true}},
{"data":{"values":[{"s":0.1892,"r":1}]},"mark":{"type":"circle","color":"#daa520","size":2300,"opacity":1,"clip":true}}]},
{"width":1184,"height":59.5,"data":{"name":"bar"},"mark":{"type":"rect","clip":true},"encoding":{"x":{"field":"v","type":"quantitative","title":"bp","scale":{"domain":[-436.6,109.5],"nice":false,"zero":false},"axis":{"values":[-400,-300,-200,-100,0,100],"format":"d"}},"x2":{"field":"e"},"color":{"field":"v","type":"quantitative","legend":null,"scale":{"type":"linear","domain":[-436.6,-425,-405,-384,-362,-341,-320,-297,-275,-254,-232,-213,-191,-168,-148,-125,-105,-85,-62,-43,-20,1,23,43,64,87,109.5],"range":["#a01010","#e02818","#431a08","#d86c14","#4a300a","#d6b010","#484808","#b2d610","#2f4408","#6fd815","#1a4404","#20d818","#064a0c","#14d850","#0a4422","#14d694","#0c4440","#14d8d8","#0c3a4a","#148cd8","#0a2448","#1446d4","#060a48","#2014d4","#1c0a48","#7014d0","#3a0840"]}}}}]}
